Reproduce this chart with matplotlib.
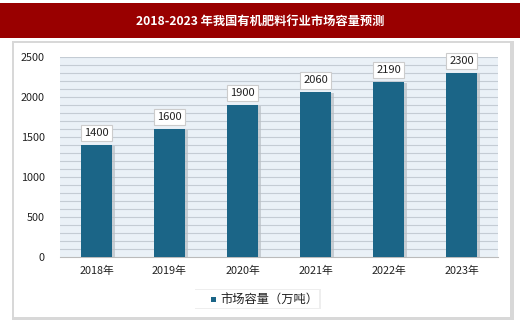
import matplotlib
matplotlib.use("Agg")
import matplotlib.pyplot as plt
from matplotlib.patches import Rectangle
import numpy as np

plt.rcParams['font.family'] = ['Noto Sans CJK SC', 'DejaVu Sans']

categories = ["2018年", "2019年", "2020年", "2021年", "2022年", "2023年"]
values = [1400, 1600, 1900, 2060, 2190, 2300]
yticks = [0, 500, 1000, 1500, 2000, 2500]
title = "2018-2023 年我国有机肥料行业市场容量预测"
legend_label = "市场容量（万吨）"

W, H = 520, 324
fig = plt.figure(figsize=(W/100, H/100), dpi=100)
fig.patch.set_facecolor("white")

# title bar
fig.patches.append(Rectangle((0, 1-38/H), 1, 35/H, transform=fig.transFigure,
                             facecolor="#990000", edgecolor="none", zorder=-5))
fig.text(0.5, 1-21/H, title, color="white", ha="center", va="center",
         fontsize=8.8, fontweight="bold")

# panel shadow + panel
fig.patches.append(Rectangle((12/W, 1-320/H), 502/W, 279/H, transform=fig.transFigure,
                             facecolor="#d8d8d8", edgecolor="none", zorder=-5))
fig.patches.append(Rectangle((14/W, 1-317/H), 496/W, 274/H, transform=fig.transFigure,
                             facecolor="white", edgecolor="none", zorder=-4))

ax = fig.add_axes([60/W, 1-257/H, 438/W, 200/H])
ax.set_zorder(5)
ax.set_facecolor("#eaf1f7")
x = np.arange(len(categories))
ax.set_xlim(-0.5, len(categories)-0.5)
ax.set_ylim(0, 2500)
for v in range(100, 2600, 100):
    ax.axhline(v, color="#c4ccd4", lw=0.8, zorder=1)
# shadow bars
ax.bar(x+0.035, np.array(values) - 15, width=0.43, color="#b8bec4", zorder=2, alpha=0.7)
ax.bar(x, values, width=0.42, color="#1b6587", zorder=3)
for xi, v in zip(x, values):
    ax.annotate(str(v), (xi, v), xytext=(0, 5), textcoords="offset points",
                ha="center", va="bottom", fontsize=8, color="#222222", zorder=5,
                bbox=dict(boxstyle="square,pad=0.3", fc="white", ec="#cccccc", lw=0.8))
ax.set_xticks(x)
ax.set_xticklabels(categories, fontsize=7.8, color="#222222")
ax.set_yticks(yticks)
ax.set_yticklabels([str(t) for t in yticks], fontsize=7.8, color="#222222")
ax.tick_params(length=0, pad=6)
ax.tick_params(axis="y", pad=11)
for s in ax.spines.values():
    s.set_visible(False)
ax.spines["bottom"].set_visible(True)
ax.spines["bottom"].set_color("#bbbbbb")

# legend
fig.patches.append(Rectangle((195/W, 1-309/H), 126/W, 20/H, transform=fig.transFigure,
                             facecolor="#eeeeee", edgecolor="none", zorder=1))
fig.patches.append(Rectangle((195/W, 1-308/H), 124/W, 18/H, transform=fig.transFigure,
                             facecolor="white", edgecolor="none", zorder=2))
fig.patches.append(Rectangle((211/W, 1-302/H), 5/W, 5/H, transform=fig.transFigure,
                             facecolor="#1b6587", edgecolor="none", zorder=3))
fig.text(220/W, 1-299.5/H, legend_label, fontsize=8.8, color="#222222", va="center", ha="left", zorder=4)

fig.savefig("out.png", dpi=100)
